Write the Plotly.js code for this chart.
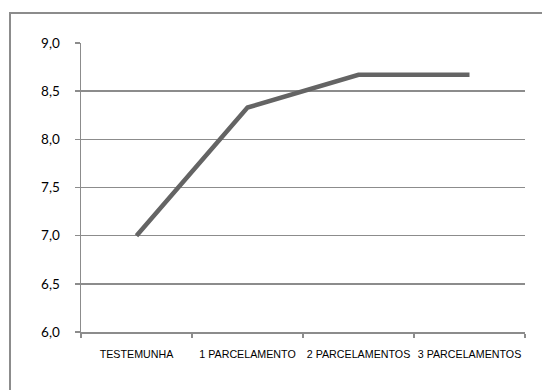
<!DOCTYPE html>
<html>
<head>
<meta charset="utf-8">
<script src="https://cdn.plot.ly/plotly-3.0.1.min.js"></script>
<style>
html,body{margin:0;padding:0;width:542px;height:390px;overflow:hidden;background:#fff;}
#frame{position:absolute;left:9px;top:12px;width:620px;height:420px;border:2px solid #8c8c8c;box-sizing:border-box;}
#chart{position:absolute;left:0;top:0;width:542px;height:390px;}
</style>
</head>
<body>
<div id="frame"></div>
<div id="chart"></div>
<script>
const categories = ["TESTEMUNHA", "1 PARCELAMENTO", "2 PARCELAMENTOS", "3 PARCELAMENTOS"];
const values = [7.0, 8.33, 8.67, 8.67];
const yTicks = [6.0, 6.5, 7.0, 7.5, 8.0, 8.5, 9.0];

const trace = {
  x: categories,
  y: values,
  type: "scatter",
  mode: "lines",
  line: {color: "#646464", width: 4.5},
  hoverinfo: "skip"
};

const layout = {
  width: 542,
  height: 390,
  margin: {l: 81, r: 17, t: 43, b: 58},
  paper_bgcolor: "rgba(0,0,0,0)",
  plot_bgcolor: "rgba(0,0,0,0)",
  separators: ",.",
  showlegend: false,
  xaxis: {
    type: "category",
    tickson: "boundaries",
    ticks: "outside",
    ticklen: 4,
    tickcolor: "#8c8c8c",
    tickwidth: 1.5,
    showgrid: false,
    showline: true,
    linecolor: "#8c8c8c",
    linewidth: 1.5,
    range: [-0.5, 3.5],
    tickangle: 0,
    tickfont: {family: "Arial", size: 10.7, color: "#000"},
    ticklabelstandoff: 12,
    zeroline: false
  },
  yaxis: {
    range: [6, 9],
    tickvals: yTicks,
    tickformat: ".1f",
    ticks: "outside",
    ticklen: 5,
    tickcolor: "#8c8c8c",
    tickwidth: 1.5,
    showgrid: true,
    gridcolor: "#8c8c8c",
    gridwidth: 1.5,
    showline: true,
    linecolor: "#8c8c8c",
    linewidth: 1.5,
    zeroline: false,
    tickfont: {family: "Lato, Open Sans, sans-serif", size: 13.5, color: "#000"},
    ticklabelstandoff: 12
  }
};

Plotly.newPlot("chart", [trace], layout, {staticPlot: true, displayModeBar: false});
</script>
</body>
</html>
